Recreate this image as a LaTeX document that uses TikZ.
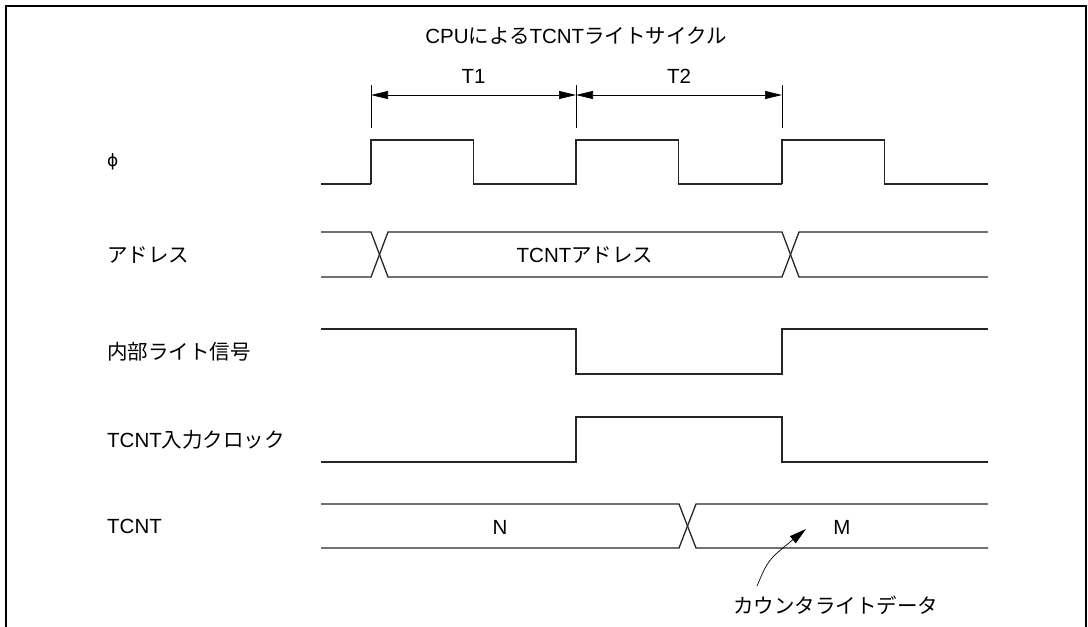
\documentclass[tikz,border=0pt]{standalone}
\usepackage{fontspec}
\setmainfont{Liberation Sans}
\newfontfamily\jp{Noto Sans CJK JP}
\newfontfamily\dejavu{DejaVu Sans}
\usepackage{tikz}
\usetikzlibrary{arrows.meta}

\begin{document}
\begin{tikzpicture}[x=1pt,y=-1pt,
    sig/.style={line width=1.3pt,draw=black!85,line join=miter},
    dim/.style={line width=0.7pt},
    lbl/.style={font=\fontsize{20.5}{24}\selectfont,inner sep=0pt,anchor=west},
    txt/.style={font=\fontsize{20.5}{24}\selectfont,inner sep=0pt}]
    \useasboundingbox (0,0) rectangle (1088,627);
    % Frame
    \draw[line width=1.8pt] (6,640) -- (6,6) -- (1086,6) -- (1086,640);
    % Titles
    \node[txt] (title) at (576,36) {CPU{\jp による}TCNT{\jp ライトサイクル}};
    \node[txt] (t1) at (473.5,76) {T1};
    \node[txt] (t2) at (679,76) {T2};
    % Cycle marks
    \foreach \cx/\cn in {371/c0,576/c1,782/c2} {
        \coordinate (\cn) at (\cx,95);
        \draw[dim] (\cx,85) -- (\cx,128);
    }
    \draw[dim,{Triangle[length=17pt,width=8pt]}-{Triangle[length=17pt,width=8pt]}] (c0) -- (c1);
    \draw[dim,{Triangle[length=17pt,width=8pt]}-{Triangle[length=17pt,width=8pt]}] (c1) -- (c2);
    % Signal names
    \node[lbl] (lphi) at (107,162) {\dejavu\fontsize{17}{20}\selectfont ϕ};
    \node[lbl] (laddr) at (107,255) {\jp アドレス};
    \node[lbl] (lwr) at (107,352) {\jp 内部ライト信号};
    \node[lbl] (lclk) at (107,440) {TCNT{\jp 入力クロック}};
    \node[lbl] (ltcnt) at (107,526) {TCNT};
    % phi
    \draw[sig] (321,184) -- (371,184);
    \foreach \e in {371,576,782}
        \draw[sig] (\e,184) |- (\e+102.5,140) |- (\e+205.5,184);
    % Address
    \draw[sig] (321,232) -- (371,232) -- (388,277) -- (782,277) -- (799,232) -- (988,232);
    \draw[sig] (321,277) -- (371,277) -- (388,232) -- (782,232) -- (799,277) -- (988,277);
    \node[txt] (addr) at (585,255) {TCNT{\jp アドレス}};
    % Internal write
    \draw[sig] (321,329) -| (576,374) -| (782,329) -- (988,329);
    % TCNT input clock
    \draw[sig] (321,462) -| (576,417) -| (782,462) -- (988,462);
    % TCNT
    \draw[sig] (321,504) -- (679,504) -- (696,548) -- (988,548);
    \draw[sig] (321,548) -- (679,548) -- (696,504) -- (988,504);
    \node[txt] (vn) at (500,527) {N};
    \node[txt] (vm) at (842,527) {M};
    % Counter write data
    \node[lbl] (cwd) at (733,605) {\jp カウンタライトデータ};
    \coordinate (cwdtip) at (806,529);
    \draw[dim,-{Triangle[length=17pt,width=9pt]}] (757,586) .. controls (768,560) .. (cwdtip);
\end{tikzpicture}
\end{document}
